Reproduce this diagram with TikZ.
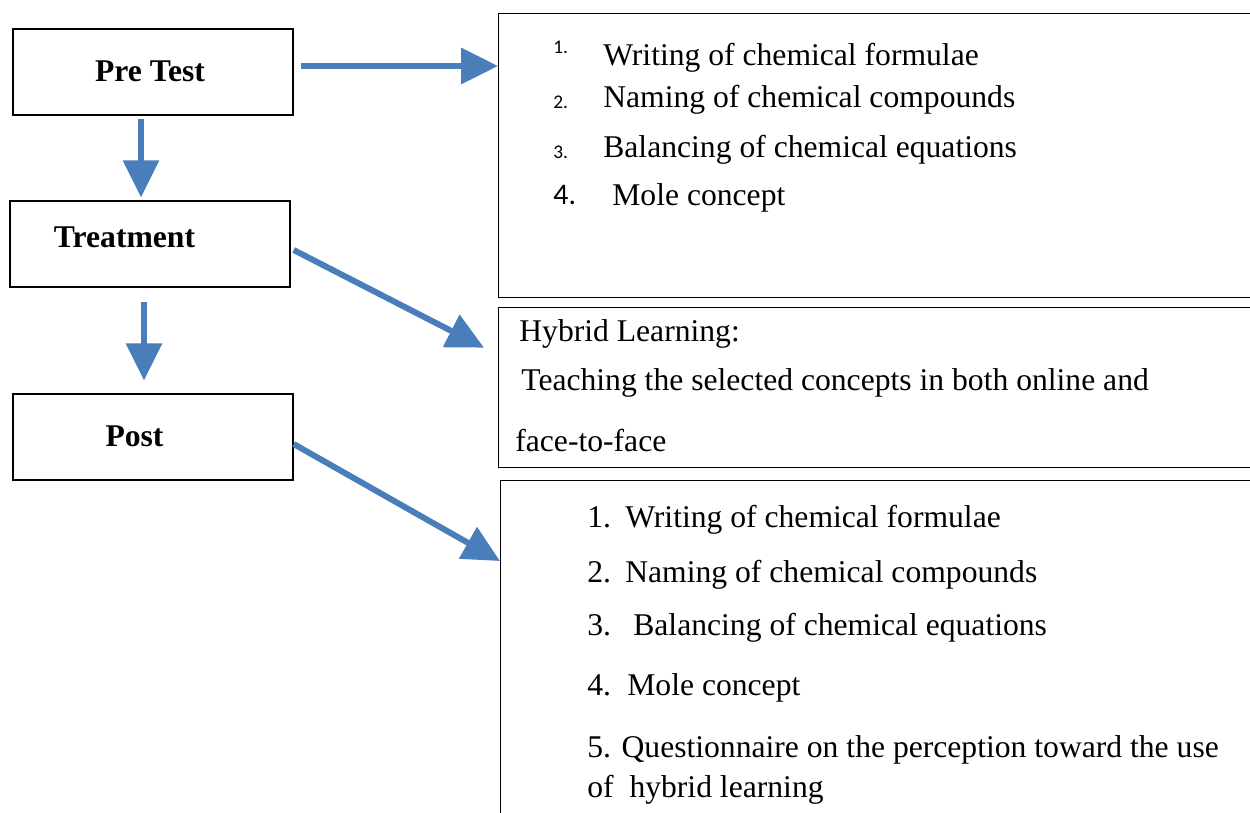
\documentclass[tikz,border=0pt]{standalone}
\usepackage{fontspec}
\setmainfont{Liberation Serif}
\newfontfamily\numfont{Carlito}
\usetikzlibrary{arrows.meta,positioning}
\definecolor{flowblue}{HTML}{4A7EBB}

\tikzset{
  stage/.style={draw, line width=0.8pt, inner sep=0pt, minimum width=5.6cm, minimum height=1.72cm},
  stagelbl/.style={anchor=base, inner sep=0pt, font=\fontsize{18}{22}\selectfont\bfseries},
  panel/.style={draw, line width=0.8pt, inner sep=0pt, anchor=north west},
  item/.style={anchor=base west, inner sep=0pt},
  smallnum/.style={item, font=\numfont\fontsize{11}{13}\selectfont},
  flow/.style={draw=flowblue, line width=3.4pt, -{Triangle[length=21pt,width=20pt]}}
}

\begin{document}
\begin{tikzpicture}[x=0.02cm, y=-0.02cm, font=\fontsize{18}{22}\selectfont]
\useasboundingbox (0,0) rectangle (1250,812);
\clip (0,0) rectangle (1250,812);

% stages
\node[stage] (pre) at (153,72) {};
\node[stage] (treat) at (150,244) {};
\node[stage] (post) at (153,437) {};
\node[stagelbl] (pre-lbl) at (150,81) {Pre Test};
\node[stagelbl] (treat-lbl) at (124.5,247) {Treatment};
\node[stagelbl] (post-lbl) at (134.5,446) {Post};

% panels on the right
\node[panel, minimum width=15.3cm, minimum height=5.68cm] (box1) at (498,13) {};
\node[panel, minimum width=15.3cm, minimum height=3.2cm] (box2) at (498,307) {};
\node[panel, minimum width=15.3cm, minimum height=7.2cm] (box3) at (500,480) {};

% pre test topics
\node[smallnum] (pn1) at (553,53) {1.};
\node[item] (pt1) at (603,65) {Writing of chemical formulae};
\node[smallnum] (pn2) at (553,108) {2.};
\node[item] (pt2) at (603,107) {Naming of chemical compounds};
\node[smallnum] (pn3) at (553,158) {3.};
\node[item] (pt3) at (603,157) {Balancing of chemical equations};
\node[item, font=\numfont\fontsize{17}{20}\selectfont] (pn4) at (553,204) {4.};
\node[item] (pt4) at (612,205) {Mole concept};

% treatment
\node[item] (hy1) at (519,341) {Hybrid Learning:};
\node[item] (hy2) at (521,390) {Teaching the selected concepts in both online and};
\node[item] (hy3) at (515,451) {face-to-face};

% post topics
\node[item] (qn1) at (587,527) {1.};
\node[item] (qt1) at (625,527) {Writing of chemical formulae};
\node[item] (qn2) at (587,582) {2.};
\node[item] (qt2) at (625,582) {Naming of chemical compounds};
\node[item] (qn3) at (587,635) {3.};
\node[item] (qt3) at (633,635) {Balancing of chemical equations};
\node[item] (qn4) at (587,695) {4.};
\node[item] (qt4) at (627,695) {Mole concept};
\node[item] (qt5) at (587,757) {5. Questionnaire on the perception toward the use};
\node[item] (qt6) at (587,797) {of\ \ hybrid learning};

% arrows
\coordinate (preout) at ([shift={(7,-6)}]pre.east);
\draw[flow] (preout) -- (preout -| box1.west);
\coordinate (predown) at ([shift={(-12,3)}]pre.south);
\draw[flow, shorten >=0.06cm] (predown) -- (predown |- treat.north);
\coordinate (treatdown) at ([shift={(-6,14)}]treat.south);
\draw[flow, shorten >=0.26cm] (treatdown) -- (treatdown |- post.north);
\draw[flow] ([shift={(3,6)}]treat.east) -- ([shift={(-14,-40)}]box2.west);
\draw[flow] ([shift={(0,7)}]post.east) -- ([shift={(0,81)}]box3.north west);
\end{tikzpicture}
\end{document}
